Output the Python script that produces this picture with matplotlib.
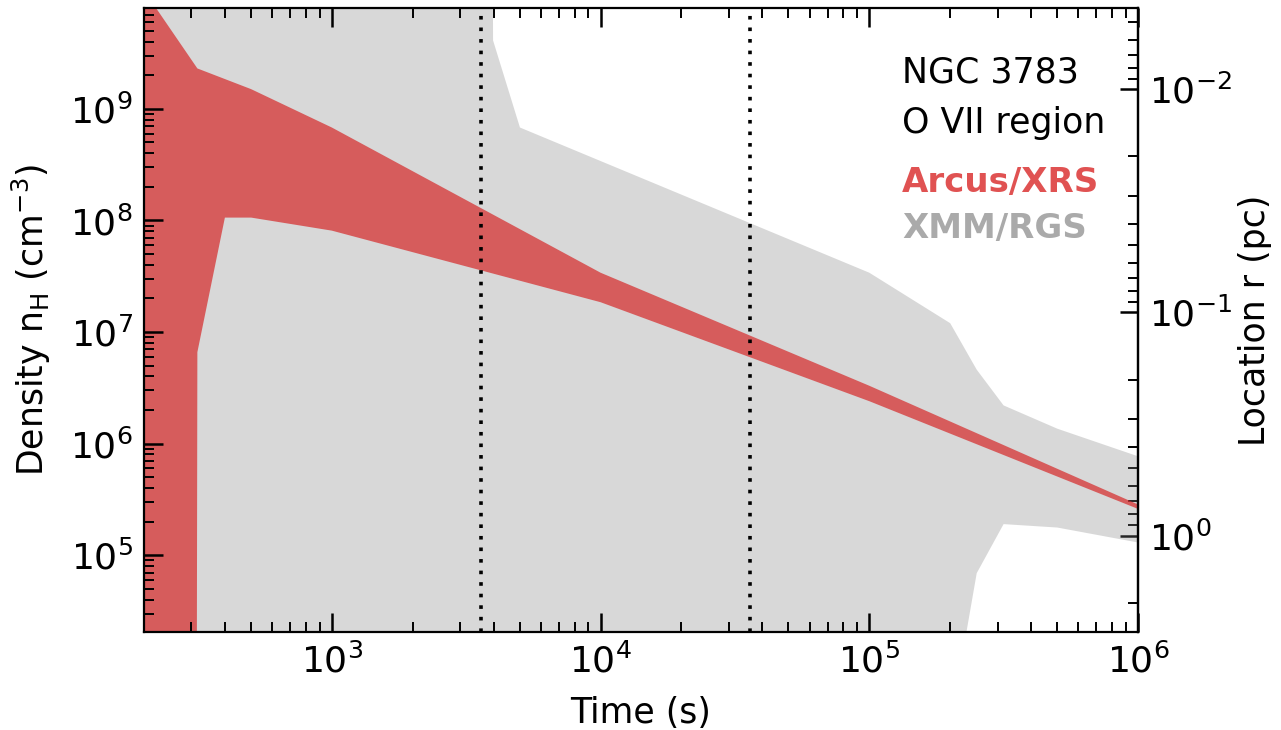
import numpy as np
import matplotlib
matplotlib.use("Agg")
import matplotlib.pyplot as plt

# ---- data ----
red_hi_t = [200, 316, 501, 1000, 1e4, 1e5, 1e6]
red_hi_n = [1.15e10, 2.3e9, 1.5e9, 6.8e8, 3.4e7, 3.3e6, 2.85e5]
red_lo_t = [200, 314, 316, 400, 501, 1000, 1e4, 1e5, 1e6]
red_lo_n = [1e3, 1e3, 6.6e6, 1.06e8, 1.06e8, 8.1e7, 1.85e7, 2.4e6, 2.6e5]

grey_hi_t = [200, 3950, 3981, 5012, 1e5, 2e5, 2.51e5, 3.16e5, 5.01e5, 1e6]
grey_hi_n = [1e12, 1e12, 4.1e9, 6.8e8, 3.4e7, 1.2e7, 4.6e6, 2.2e6, 1.36e6, 7.7e5]
grey_lo_t = [200, 2e5, 2.51e5, 3.16e5, 5.01e5, 1e6]
grey_lo_n = [1e3, 3e3, 6.9e4, 1.9e5, 1.77e5, 1.3e5]

vlines_t = [3600, 36000]
r_const = 1.5e5   # n_H at r = 1 pc

plt.rcParams['font.family'] = 'DejaVu Sans'
fig = plt.figure(figsize=(12.81, 7.30), dpi=100)
ax = fig.add_axes([0.1124, 0.1342, 0.7760, 0.8548])

gx = np.concatenate([grey_hi_t, grey_lo_t[::-1]])
gy = np.concatenate([grey_hi_n, grey_lo_n[::-1]])
ax.fill(gx, gy, color='grey', alpha=0.3, lw=0)

rx = np.concatenate([red_hi_t, red_lo_t[::-1]])
ry = np.concatenate([red_hi_n, red_lo_n[::-1]])
ax.fill(rx, ry, color='tab:red', alpha=0.7, lw=0)

for t in vlines_t:
    ax.axvline(t, color='black', lw=2.6, linestyle=(0, (1, 2.2)))

ax.set_xscale('log')
ax.set_yscale('log')
ax.set_xlim(200, 1e6)
ax.set_ylim(2.05e4, 8e9)

ax.set_xlabel('Time (s)', fontsize=25, labelpad=12)
ax.set_ylabel(r'Density n$_\mathrm{H}$ (cm$^{-3}$)', fontsize=25, labelpad=12)

ax.tick_params(which='both', direction='in', top=True, right=False, labelsize=26)
ax.tick_params(which='major', length=14, width=1.8, pad=8)
ax.tick_params(which='minor', length=7, width=1.4)
for s in ax.spines.values():
    s.set_linewidth(1.6)

sec = ax.secondary_yaxis('right', functions=(lambda n: np.sqrt(r_const / np.asarray(n)),
                                             lambda r: r_const / np.asarray(r) ** 2))
sec.tick_params(which='both', direction='in', labelsize=26)
sec.tick_params(which='major', length=13, width=1.8, pad=8)
sec.tick_params(which='minor', length=7, width=1.4)
sec.set_ylabel('Location r (pc)', fontsize=25, labelpad=4)
for s in sec.spines.values():
    s.set_linewidth(1.6)

tx = 0.7626
ax.text(tx, 0.880, 'NGC 3783', transform=ax.transAxes, fontsize=25, va='baseline')
ax.text(tx, 0.800, 'O VII region', transform=ax.transAxes, fontsize=25, va='baseline')
ax.text(tx, 0.705, 'Arcus/XRS', transform=ax.transAxes, fontsize=24.5, va='baseline',
        color='#e05252', fontweight='bold')
ax.text(tx, 0.631, 'XMM/RGS', transform=ax.transAxes, fontsize=24.5, va='baseline',
        color='#aaaaaa', fontweight='bold')

fig.savefig('out.png', dpi=100)
